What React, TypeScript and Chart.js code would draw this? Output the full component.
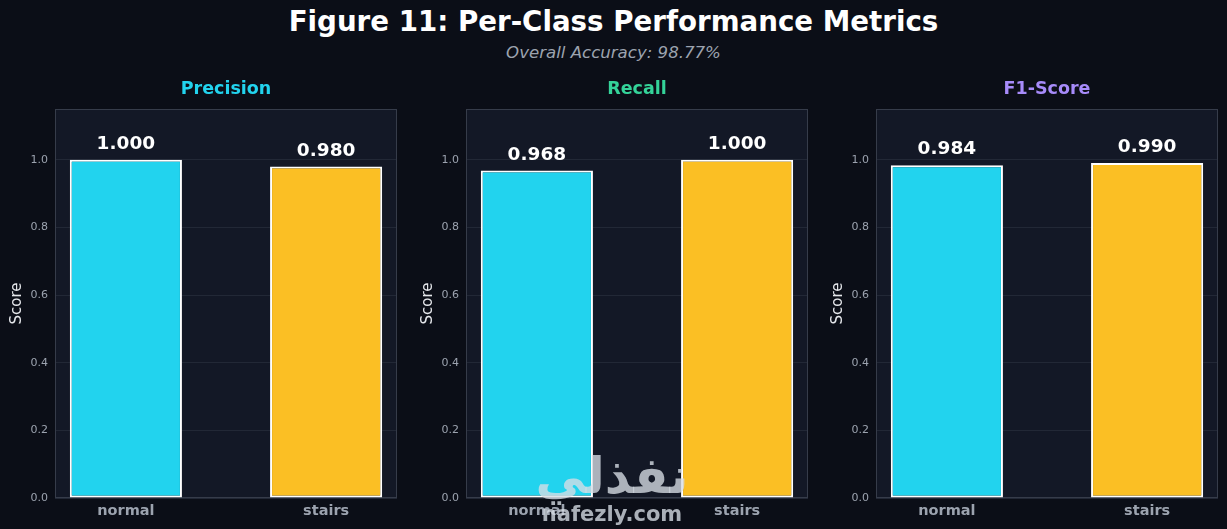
import React, { useEffect, useRef } from "react";
import Chart from "chart.js/auto";

// chart values
const classes = ["normal", "stairs"];
const precision = [1.0, 0.98];
const recall = [0.968, 1.0];
const f1Score = [0.984, 0.99];
const yTicks = [0, 0.2, 0.4, 0.6, 0.8, 1.0];

const FONT = "'DejaVu Sans', sans-serif";
const BG = "#0b0e17";
const PLOT_BG = "#131826";
const FRAME = "#363c4a";
const GRID = "#222836";
const MUTED = "#9ca3af";
const barColors = ["#22d3ee", "#fbbf24"];

const panelFrame = {
  id: "panelFrame",
  beforeDraw(chart: any) {
    const { ctx, chartArea: a } = chart;
    ctx.save();
    ctx.fillStyle = PLOT_BG;
    ctx.fillRect(a.left, a.top, a.right - a.left, a.bottom - a.top);
    ctx.restore();
  },
  beforeDatasetsDraw(chart: any) {
    const { ctx, chartArea: a } = chart;
    ctx.save();
    ctx.strokeStyle = FRAME;
    ctx.lineWidth = 1;
    ctx.strokeRect(a.left + 0.5, a.top + 0.5, a.right - a.left - 1, a.bottom - a.top - 1);
    ctx.restore();
  },
  // panel title, centred over the plot area like the original
  afterDraw(chart: any, _args: any, opts: any) {
    const { ctx, chartArea: a } = chart;
    ctx.save();
    ctx.fillStyle = opts.color;
    ctx.font = `bold 17.5px ${FONT}`;
    ctx.textAlign = "center";
    ctx.textBaseline = "middle";
    ctx.fillText(opts.text, (a.left + a.right) / 2, a.top - 20);
    ctx.restore();
  },
};

const valueLabels = {
  id: "valueLabels",
  afterDatasetsDraw(chart: any) {
    const { ctx } = chart;
    const ds = chart.data.datasets[0];
    const meta = chart.getDatasetMeta(0);
    ctx.save();
    ctx.fillStyle = "#ffffff";
    ctx.font = `bold 18.5px ${FONT}`;
    ctx.textAlign = "center";
    ctx.textBaseline = "alphabetic";
    meta.data.forEach((bar: any, i: number) => {
      ctx.fillText(ds.data[i].y.toFixed(3), bar.x, bar.y - 11);
    });
    ctx.restore();
  },
};

type PanelProps = {
  title: string;
  color: string;
  values: number[];
  left: number;
};

const MetricPanel = ({ title, color, values, left }: PanelProps) => {
  const canvasRef = useRef<HTMLCanvasElement | null>(null);

  useEffect(() => {
    if (!canvasRef.current) return;

    const chart = new Chart(canvasRef.current, {
      type: "bar",
      data: {
        datasets: [
          {
            data: values.map((v, i) => ({ x: i, y: v })),
            backgroundColor: barColors,
            borderColor: "#ffffff",
            borderWidth: 2,
            borderSkipped: false,
            barPercentage: 0.56,
            categoryPercentage: 1,
          },
        ],
      },
      options: {
        responsive: false,
        animation: false,
        layout: { padding: { right: 8, top: 39 } },
        plugins: {
          legend: { display: false },
          tooltip: { enabled: false },
          title: { display: false },
          panelFrame: { text: title, color },
        } as any,
        scales: {
          x: {
            type: "linear",
            offset: false,
            min: -0.354,
            max: 1.354,
            afterBuildTicks: (s: any) => {
              s.ticks = classes.map((_, i) => ({ value: i }));
            },
            afterFit: (s: any) => {
              s.height = 31;
            },
            grid: { display: false, offset: false, drawTicks: false },
            border: { display: false },
            ticks: {
              callback: (v: any) => classes[v] ?? "",
              color: MUTED,
              font: { family: FONT, size: 14.5, weight: "bold" },
              padding: 5,
              maxRotation: 0,
              autoSkip: false,
            },
          },
          y: {
            min: 0,
            max: 1.15,
            afterBuildTicks: (s: any) => {
              s.ticks = yTicks.map((v) => ({ value: v }));
            },
            afterFit: (s: any) => {
              s.width = 55;
            },
            grid: { color: GRID, drawTicks: false },
            border: { display: false },
            ticks: {
              callback: (v: any) => Number(v).toFixed(1),
              color: MUTED,
              font: { family: FONT, size: 11 },
              padding: 7,
            },
            title: {
              display: true,
              text: "Score",
              color: "#e5e7eb",
              font: { family: FONT, size: 15 },
              padding: { top: 8, bottom: 0 },
            },
          },
        },
      },
      plugins: [panelFrame, valueLabels],
    });

    return () => {
      chart.destroy();
    };
  }, []);

  return (
    <canvas
      ref={canvasRef}
      width={405}
      height={459}
      style={{ position: "absolute", left, top: 70, width: 405, height: 459 }}
    />
  );
};

const App = () => {
  return (
    <div
      style={{
        position: "fixed",
        left: 0,
        top: 0,
        width: 1227,
        height: 529,
        overflow: "hidden",
        background: BG,
        fontFamily: FONT,
      }}
    >
      <div
        style={{
          position: "absolute",
          left: 0,
          width: 1227,
          top: 5,
          textAlign: "center",
          color: "#ffffff",
          fontWeight: "bold",
          fontSize: 27.7,
          lineHeight: "34px",
        }}
      >
        Figure 11: Per-Class Performance Metrics
      </div>
      <div
        style={{
          position: "absolute",
          left: 0,
          width: 1227,
          top: 43,
          textAlign: "center",
          color: MUTED,
          fontStyle: "italic",
          fontSize: 16.6,
          lineHeight: "20px",
        }}
      >
        Overall Accuracy: 98.77%
      </div>

      <MetricPanel title="Precision" color="#22d3ee" values={precision} left={0} />
      <MetricPanel title="Recall" color="#34d399" values={recall} left={411} />
      <MetricPanel title="F1-Score" color="#a78bfa" values={f1Score} left={821} />

      {/* watermark */}
      <div
        style={{
          position: "absolute",
          left: 512,
          width: 200,
          top: 448,
          textAlign: "center",
          color: "rgba(215, 222, 230, 0.78)",
          fontWeight: "bold",
          pointerEvents: "none",
        }}
      >
        <div style={{ fontSize: 50, lineHeight: "56px" }} dir="rtl">
          نفذلي
        </div>
        <div style={{ fontSize: 21, lineHeight: "24px", marginTop: -2 }}>nafezly.com</div>
      </div>
    </div>
  );
};

export default App;
